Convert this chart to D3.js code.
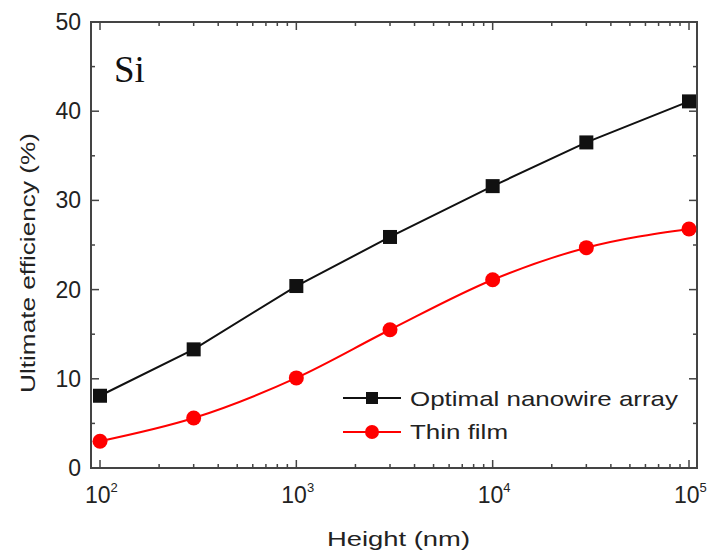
<!DOCTYPE html>
<html><head><meta charset="utf-8">
<script src="https://cdn.jsdelivr.net/npm/d3@7"></script>
<style>body{margin:0;background:#fff}svg text{font-family:"Liberation Sans",Arial,sans-serif}</style>
</head><body>
<svg id="c" width="707" height="554"></svg>
<script>
const heights = [100, 300, 1000, 3000, 10000, 30000, 100000];
const nanowire = [8.1, 13.3, 20.4, 25.9, 31.6, 36.5, 41.1];
const thinFilm = [3.0, 5.6, 10.1, 15.5, 21.1, 24.7, 26.8];
const seriesNames = ["Optimal nanowire array", "Thin film"];
const yTicks = [0, 10, 20, 30, 40, 50];
const xTicks = [100, 1000, 10000, 100000];
const xLabelExp = ["2", "3", "4", "5"];

const svg = d3.select("#c");
const L = 91, R = 697, T = 22, B = 468;
const x = d3.scaleLog().domain([100, 100000]).range([100, 689]);
const y = d3.scaleLinear().domain([0, 50]).range([B, T]);

// frame
svg.append("rect").attr("x", L).attr("y", T).attr("width", R - L).attr("height", B - T)
  .attr("fill", "none").attr("stroke", "#444").attr("stroke-width", 2);

// minor x ticks
const minorX = [];
for (let d = 100; d < 100000; d *= 10) for (let k = 2; k <= 9; k++) minorX.push(d * k);
const gx = svg.append("g").attr("stroke", "#444").attr("stroke-width", 1.5);
minorX.forEach(v => {
  gx.append("line").attr("x1", x(v)).attr("x2", x(v)).attr("y1", B).attr("y2", B - 4);
  gx.append("line").attr("x1", x(v)).attr("x2", x(v)).attr("y1", T).attr("y2", T + 4);
});
xTicks.forEach(v => {
  gx.append("line").attr("x1", x(v)).attr("x2", x(v)).attr("y1", B).attr("y2", B - 8);
  gx.append("line").attr("x1", x(v)).attr("x2", x(v)).attr("y1", T).attr("y2", T + 8);
});
// y ticks
const gy = svg.append("g").attr("stroke", "#444").attr("stroke-width", 1.5);
yTicks.forEach(v => {
  gy.append("line").attr("x1", L).attr("x2", L + 8).attr("y1", y(v)).attr("y2", y(v));
  gy.append("line").attr("x1", R).attr("x2", R - 8).attr("y1", y(v)).attr("y2", y(v));
  if (v < 50) {
    gy.append("line").attr("x1", L).attr("x2", L + 4).attr("y1", y(v + 5)).attr("y2", y(v + 5));
    gy.append("line").attr("x1", R).attr("x2", R - 4).attr("y1", y(v + 5)).attr("y2", y(v + 5));
  }
});

// tick labels
yTicks.forEach(v => {
  svg.append("text").attr("x", L - 10).attr("y", y(v) + 8).attr("text-anchor", "end")
    .attr("font-size", 23).attr("fill", "#222").text(v);
});
xTicks.forEach((v, i) => {
  const t = svg.append("text").attr("x", x(v) - 15).attr("y", B + 35)
    .attr("font-size", 23).attr("fill", "#222");
  t.append("tspan").text("10");
  t.append("tspan").attr("dy", -11).attr("font-size", 13).text(xLabelExp[i]);
});

// axis titles
svg.append("text").attr("x", 327).attr("y", 546)
  .attr("font-size", 21).attr("fill", "#222")
  .attr("textLength", 143).attr("lengthAdjust", "spacingAndGlyphs").text("Height (nm)");
svg.append("text").attr("transform", "translate(35,393) rotate(-90)")
  .attr("font-size", 21).attr("fill", "#222")
  .attr("textLength", 260).attr("lengthAdjust", "spacingAndGlyphs").text("Ultimate efficiency (%)");

// Si label
svg.append("text").attr("x", 114).attr("y", 82)
  .style("font-family", "'Liberation Serif', 'Times New Roman', serif").attr("font-size", 37).attr("fill", "#111").text("Si");

// lines
const lineStraight = d3.line().x(d => x(d[0])).y(d => y(d[1]));
const lineSmooth = d3.line().x(d => x(d[0])).y(d => y(d[1])).curve(d3.curveMonotoneX);
const nwData = heights.map((h, i) => [h, nanowire[i]]);
const tfData = heights.map((h, i) => [h, thinFilm[i]]);

svg.append("path").attr("d", lineStraight(nwData)).attr("fill", "none").attr("stroke", "#111").attr("stroke-width", 2);
svg.append("path").attr("d", lineSmooth(tfData)).attr("fill", "none").attr("stroke", "#f00").attr("stroke-width", 2);

svg.selectAll(".sq").data(nwData).enter().append("rect")
  .attr("x", d => x(d[0]) - 7).attr("y", d => y(d[1]) - 7).attr("width", 14).attr("height", 14).attr("fill", "#111");
svg.selectAll(".ci").data(tfData).enter().append("circle")
  .attr("cx", d => x(d[0])).attr("cy", d => y(d[1])).attr("r", 7.5).attr("fill", "#f00");

// legend
const lg = svg.append("g");
const lx1 = 343, lx2 = 401, lxm = 372;
lg.append("line").attr("x1", lx1).attr("x2", lx2).attr("y1", 398).attr("y2", 398).attr("stroke", "#111").attr("stroke-width", 2);
lg.append("rect").attr("x", lxm - 6).attr("y", 392).attr("width", 12).attr("height", 12).attr("fill", "#111");
lg.append("text").attr("x", 410).attr("y", 406).attr("font-size", 21).attr("fill", "#222")
  .attr("textLength", 268).attr("lengthAdjust", "spacingAndGlyphs").text(seriesNames[0]);
lg.append("line").attr("x1", lx1).attr("x2", lx2).attr("y1", 432).attr("y2", 432).attr("stroke", "#f00").attr("stroke-width", 2);
lg.append("circle").attr("cx", lxm).attr("cy", 432).attr("r", 7).attr("fill", "#f00");
lg.append("text").attr("x", 410).attr("y", 439).attr("font-size", 21).attr("fill", "#222")
  .attr("textLength", 98).attr("lengthAdjust", "spacingAndGlyphs").text(seriesNames[1]);
</script>
</body></html>
